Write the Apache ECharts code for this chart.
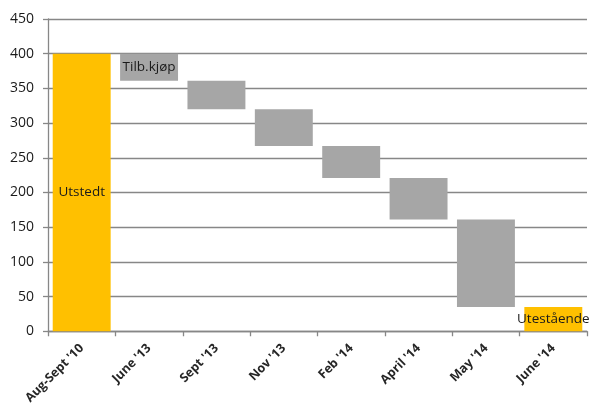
<!DOCTYPE html>
<html>
<head>
<meta charset="utf-8">
<script src="https://cdn.jsdelivr.net/npm/echarts@6/dist/echarts.min.js"></script>
<style>
  html, body { margin: 0; padding: 0; background: #fff; }
  #chart { width: 589px; height: 407px; }
</style>
</head>
<body>
<div id="chart"></div>
<script>
// Waterfall: issued amount, buybacks per period, remaining outstanding
const categories = ["Aug-Sept '10", "June '13", "Sept '13", "Nov '13", "Feb '14", "April '14", "May '14", "June '14"];
// invisible offset under each floating bar
const baseValues = [0, 361, 320, 267, 221, 161, 35, 0];
// visible height of each bar
const barValues = [400, 39, 41, 53, 46, 60, 126, 35];
const barLabels = ['Utstedt', 'Tilb.kjøp', '', '', '', '', '', 'Utestående'];
const totalIdx = [0, 7];

const YELLOW = '#FFC000';
const GREY = '#A6A6A6';
const AXIS = '#878787';
const FONT = '"Open Sans", "Noto Sans", sans-serif';

const chart = echarts.init(document.getElementById('chart'), null, { renderer: 'canvas' });

chart.setOption({
  animation: false,
  backgroundColor: '#ffffff',
  grid: { left: 48, right: 2, top: 19, bottom: 75, containLabel: false },
  xAxis: {
    type: 'category',
    data: categories,
    boundaryGap: true,
    axisLine: { lineStyle: { color: AXIS, width: 1.3 } },
    axisTick: { show: true, alignWithLabel: false, length: 5, lineStyle: { color: AXIS, width: 1.3 } },
    axisLabel: {
      rotate: 45,
      margin: 15,
      interval: 0,
      color: '#262626',
      fontFamily: FONT,
      fontSize: 12.5,
      fontWeight: 'bold'
    },
    splitLine: { show: false }
  },
  yAxis: {
    type: 'value',
    min: 0,
    max: 450,
    interval: 50,
    axisLine: { show: true, lineStyle: { color: AXIS, width: 1.3 } },
    axisTick: { show: true, length: 5, lineStyle: { color: AXIS, width: 1.3 } },
    axisLabel: { margin: 14, color: '#1a1a1a', fontFamily: FONT, fontSize: 14 },
    splitLine: { show: true, lineStyle: { color: AXIS, width: 1.3 } }
  },
  series: [
    {
      type: 'bar',
      stack: 'wf',
      data: baseValues,
      itemStyle: { color: 'transparent' },
      barCategoryGap: '14%',
      silent: true
    },
    {
      type: 'bar',
      stack: 'wf',
      data: barValues.map((v, i) => ({
        value: v,
        itemStyle: { color: totalIdx.includes(i) ? YELLOW : GREY }
      })),
      barCategoryGap: '14%',
      label: {
        show: true,
        position: 'inside',
        color: '#1a1a1a',
        fontFamily: FONT,
        fontSize: 13.5,
        formatter: p => barLabels[p.dataIndex]
      }
    }
  ]
});
</script>
</body>
</html>
